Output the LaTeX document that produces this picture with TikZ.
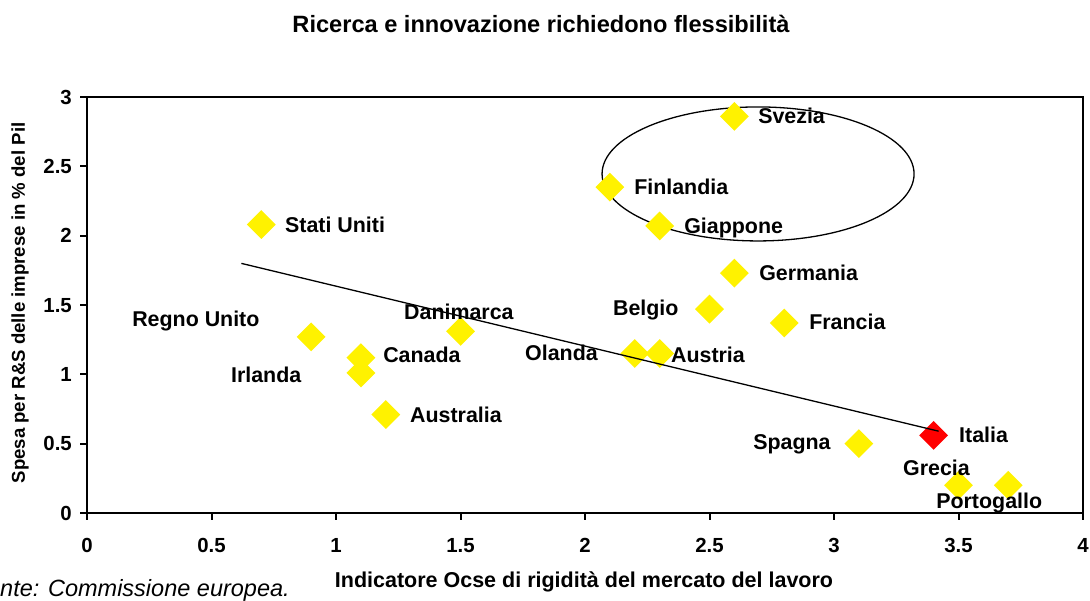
\documentclass[tikz,border=0pt]{standalone}
\usepackage{fontspec}
\setmainfont{Liberation Sans}
\usetikzlibrary{shapes.geometric}

\begin{document}
\begin{tikzpicture}[x=1pt,y=1pt,
    marker/.style={diamond,fill=yellow,inner sep=0pt,minimum width=29pt,minimum height=29pt},
    lbl/.style={anchor=west,inner sep=0pt,text height=15pt,text depth=0pt,font=\fontsize{21.4}{24}\selectfont\bfseries},
    ticklbl/.style={inner sep=0pt,text height=14.6pt,text depth=0pt,font=\fontsize{20.4}{24}\selectfont\bfseries}
]
\useasboundingbox (0,0) rectangle (1090,601);
\node (title) at (541,577) {\fontsize{23.6}{28}\selectfont\bfseries Ricerca e innovazione richiedono flessibilità};
\node (xlabel) at (584,19) {\fontsize{21.5}{24}\selectfont\bfseries Indicatore Ocse di rigidità del mercato del lavoro};
\node[rotate=90] (ylabel) at (20,298) {\fontsize{18.6}{22}\selectfont\bfseries Spesa per R\&S delle imprese in \% del Pil};
\node[anchor=base west,inner sep=0pt] (fonte) at (0,4) {\fontsize{23.5}{26}\selectfont\itshape nte: Commissione europea.};
\begin{scope}[shift={(87,88)},x=249pt,y=138.67pt]
    \draw[line width=2pt] (0,3) -- (4,3) -- (4,0);
    \draw[line width=2.6pt] (0,3) -- (0,0) -- (4,0);
    \foreach \v [count=\k] in {0,0.5,1,1.5,2,2.5,3,3.5,4}{
        \draw[line width=2pt] (\v,0) -- ++(0,-7pt);
        \node[ticklbl] (xt\k) at ([yshift=-32pt]\v,0) {\v};
    }
    \foreach \v [count=\k] in {0,0.5,1,1.5,2,2.5,3}{
        \draw[line width=2pt] (0,\v) -- ++(-7pt,0);
        \node[ticklbl,anchor=east] (yt\k) at ([xshift=-15pt]0,\v) {\v};
    }
    \draw[line width=1.3pt] (2.695,2.445) ellipse [x radius=156pt,y radius=67pt];
    \foreach \id/\x/\y/\lx/\ly/\txt in {
        usa/0.7/2.08/0.795/2.08/Stati Uniti,
        uk/0.9/1.27/0.181/1.40/Regno Unito,
        can/1.1/1.12/1.189/1.139/Canada,
        irl/1.1/1.01/0.578/0.995/Irlanda,
        aus/1.2/0.71/1.297/0.707/Australia,
        dan/1.5/1.31/1.273/1.449/Danimarca,
        ola/2.2/1.15/1.759/1.154/Olanda,
        aut/2.3/1.15/2.345/1.139/Austria,
        bel/2.5/1.47/2.112/1.48/Belgio,
        ger/2.6/1.73/2.699/1.731/Germania,
        fra/2.8/1.37/2.9/1.377/Francia,
        fin/2.1/2.35/2.197/2.351/Finlandia,
        gia/2.3/2.07/2.398/2.072/Giappone,
        sve/2.6/2.86/2.695/2.863/Svezia,
        spa/3.1/0.5/2.675/0.512/Spagna,
        gre/3.5/0.2/3.277/0.325/Grecia,
        por/3.7/0.2/3.41/0.089/Portogallo}{
        \node[marker] (\id) at (\x,\y) {};
        \node[lbl] (l\id) at (\lx,\ly) {\txt};
    }
    \node[marker,fill=red] (ita) at (3.4,0.56) {};
    \node[lbl] (lita) at (3.502,0.5625) {Italia};
    \coordinate (t1) at (0.62,1.80);
    \coordinate (t2) at (3.42,0.59);
    \draw[line width=1.3pt] (t1) -- (t2);
\end{scope}
\end{tikzpicture}
\end{document}
